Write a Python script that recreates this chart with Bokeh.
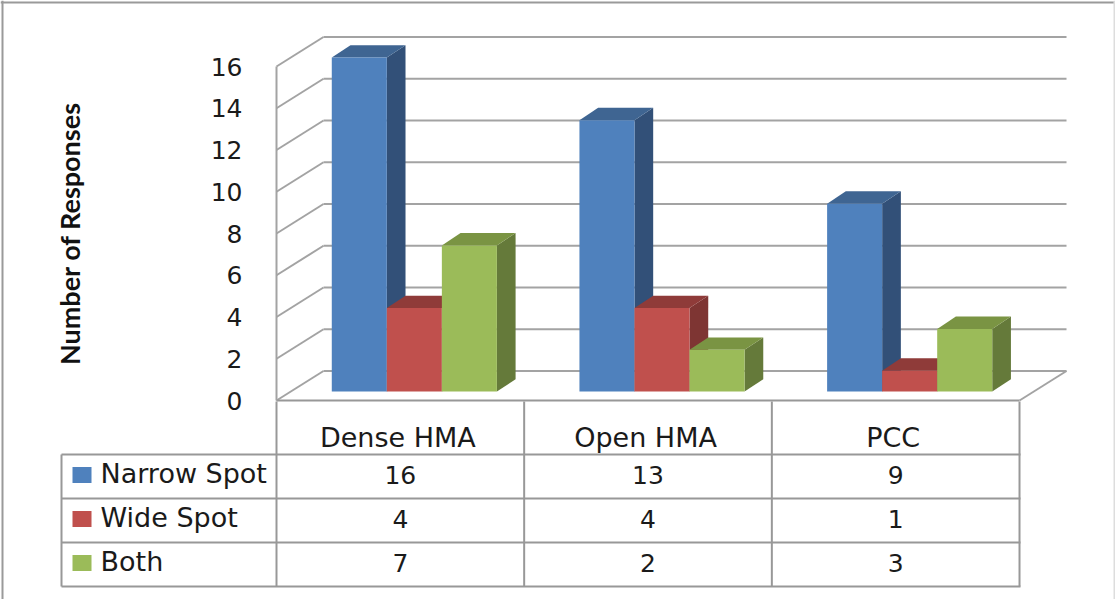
from bokeh.plotting import figure
from bokeh.models import Range1d, LinearAxis, FixedTicker
from bokeh.core.properties import value
from bokeh.embed import file_html
from bokeh.resources import INLINE

categories = ["Dense HMA", "Open HMA", "PCC"]
series_names = ["Narrow Spot", "Wide Spot", "Both"]
narrow_spot = [16, 13, 9]
wide_spot = [4, 4, 1]
both = [7, 2, 3]
y_ticks = [0, 2, 4, 6, 8, 10, 12, 14, 16]

series = [narrow_spot, wide_spot, both]
front_colors = ["#4F81BD", "#C0504D", "#9BBB59"]
top_colors = ["#3F6592", "#8F3B39", "#7A9443"]
side_colors = ["#325078", "#7E3533", "#657A3A"]

# Page-pixel layout of the drawing
W, H = 1115, 599
ORIGIN = 0
ORG_X, ORG_Y = 276.0, 400.0
CAT_PX, UNIT_PX = 247.67, 20.875
WALL_DX, WALL_DY = 47.0, 29.5
FRONT_DX, FRONT_DY = 14.0, 9.0
BAR_DX, BAR_DY = 18.7, 12.3
BAR_W = 2 / 9
GROUP_OFF = (1 - 3 * BAR_W) / 2
GRID = "#A3A3A3"
TABLE = "#989898"
TEXT = "#1A1A1A"
FONT = "DejaVu Sans"


def ux(px):
    return px / CAT_PX


def uy(px):
    return px / UNIT_PX


p = figure(
    width=W, height=H, output_backend="svg", toolbar_location=None,
    x_range=Range1d((ORIGIN - ORG_X) / CAT_PX, (ORIGIN + W - ORG_X) / CAT_PX),
    y_range=Range1d((ORG_Y - ORIGIN - H) / UNIT_PX, (ORG_Y - ORIGIN) / UNIT_PX),
    x_axis_location=None, y_axis_location=None,
    min_border=0, min_border_left=0, min_border_right=0,
    min_border_top=0, min_border_bottom=0, outline_line_color=None,
    background_fill_color="white", border_fill_color="white",
)
p.grid.visible = False
p.extra_x_ranges["px"] = Range1d(ORIGIN, ORIGIN + W)
p.extra_y_ranges["py"] = Range1d(ORIGIN + H, ORIGIN)

# Value axis on the front edge of the wall
axis = LinearAxis(
    ticker=FixedTicker(ticks=y_ticks), bounds=(min(y_ticks), max(y_ticks)),
    fixed_location=0, axis_line_color=GRID, axis_line_width=2,
    major_tick_line_color=None, minor_tick_line_color=None,
    major_label_standoff=28, major_label_text_font=FONT,
    major_label_text_font_size="25px", major_label_text_color=TEXT,
    axis_label="Number of Responses", axis_label_text_font="Lato",
    axis_label_text_font_style="bold", axis_label_text_font_size="27px",
    axis_label_text_color="#111111", axis_label_standoff=122,
)
p.add_layout(axis, "left")

# Page frame
p.segment([2, 0, 1114], [0, 2, 0], [2, W, 1114], [H, 2, H], x_range_name="px",
          y_range_name="py", line_color=["#9A9A9A", "#9A9A9A", "#DDDDDD"], line_width=2)

# Wall grid: diagonal on the side wall and horizontal on the back wall
wdx, wdy = ux(WALL_DX), uy(WALL_DY)
n_cat = len(categories)
p.segment([0] * len(y_ticks), y_ticks, [wdx] * len(y_ticks), [t + wdy for t in y_ticks],
          line_color=GRID, line_width=2)
p.segment([wdx] * len(y_ticks), [t + wdy for t in y_ticks],
          [n_cat + wdx] * len(y_ticks), [t + wdy for t in y_ticks],
          line_color=GRID, line_width=2)
p.segment([n_cat], [0], [n_cat + wdx], [wdy], line_color=GRID, line_width=2)

# Bars, left to right so each hides what the next one stands in front of
fdx, fdy = ux(FRONT_DX), uy(FRONT_DY)
bdx, bdy = ux(BAR_DX), uy(BAR_DY)
for c in range(n_cat):
    for s, vals in enumerate(series):
        v = vals[c]
        x0 = c + GROUP_OFF + s * BAR_W + fdx
        x1 = x0 + BAR_W
        y0, y1 = fdy, v + fdy
        p.patch([x1, x1 + bdx, x1 + bdx, x1], [y0, y0 + bdy, y1 + bdy, y1],
                fill_color=side_colors[s], line_color=None)
        p.patch([x0, x1, x1 + bdx, x0 + bdx], [y1, y1, y1 + bdy, y1 + bdy],
                fill_color=top_colors[s], line_color=None)
        p.quad(left=[x0], right=[x1], bottom=[y0], top=[y1],
               fill_color=front_colors[s], line_color=None)

# Data table chrome
row_edges = [454, 498, 542, 586]
row_mid_text = [474, 518, 562]
swatch_mid = [474.5, 518.5, 562.5]
p.segment([0], [0], [n_cat], [0], line_color=TABLE, line_width=2)
for i in range(n_cat + 1):
    p.segment([i], [401], [i], [586], y_range_name="py", line_color=TABLE, line_width=2)
for e in row_edges:
    p.segment([61], [e], [1020], [e], x_range_name="px", y_range_name="py",
              line_color=TABLE, line_width=2)
p.segment([61], [454], [61], [586], x_range_name="px", y_range_name="py",
          line_color=TABLE, line_width=2)

# Table texts
p.text([i + 0.49 for i in range(n_cat)], [437] * n_cat, text=categories,
       y_range_name="py", text_font=value(FONT), text_font_size="27px",
       text_align="center", text_baseline="middle", text_color=TEXT)
for s, vals in enumerate(series):
    p.text([i + 0.5 for i in range(n_cat)], [row_mid_text[s]] * n_cat,
           text=[str(v) for v in vals], y_range_name="py", text_font=value(FONT),
           text_font_size="25px", text_align="center", text_baseline="middle",
           text_color=TEXT)
    p.rect([81.5], [swatch_mid[s]], width=[19], height=[16], x_range_name="px",
           y_range_name="py", fill_color=front_colors[s], line_color=None)
    p.text([100], [row_mid_text[s] - 1], text=[series_names[s]], x_range_name="px",
           y_range_name="py", text_font=value(FONT), text_font_size="27px",
           text_align="left", text_baseline="middle", text_color=TEXT)

open("out.html", "w").write(file_html(p, INLINE))
